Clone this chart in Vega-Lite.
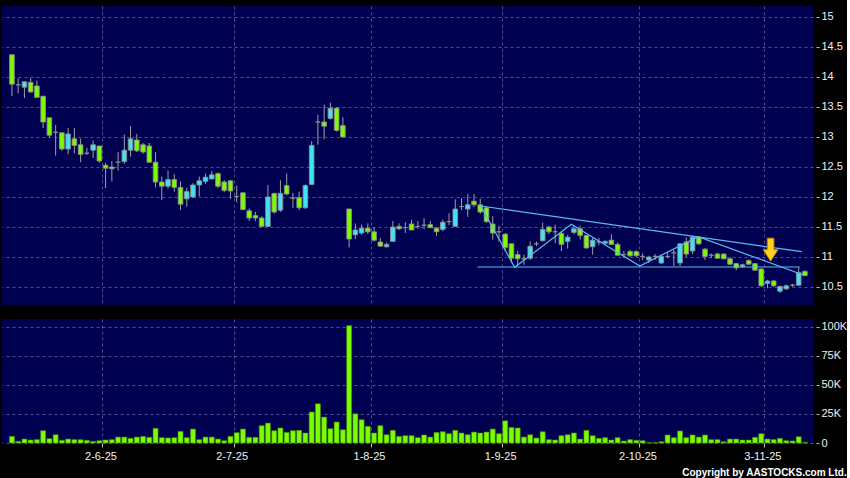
{
"$schema": "https://vega.github.io/schema/vega-lite/v6.json",
"background": "#000000",
"padding": {"left": 2, "top": 6, "right": 0, "bottom": 0},
"autosize": {"type": "pad"},
"config": {
  "view": {"fill": "#000050", "stroke": null},
  "axis": {"gridColor": "#6A6AA0", "gridDash": [3, 3], "gridOpacity": 0.75, "labelFont": "Liberation Sans", "labelFontSize": 11, "labelColor": "#F0F0F0", "tickColor": "#BDBDBD", "domain": false, "title": null, "labelOverlap": false}
},
"spacing": 14,
"bounds": "flush",
"title": {"text": "Copyright by AASTOCKS.com Ltd.", "orient": "bottom", "anchor": "end", "font": "Liberation Sans", "fontSize": 10, "fontWeight": "bold", "color": "#FFFFFF", "offset": 7},
"datasets": {
  "k": [
    {"i":1,"o":14.37,"h":14.38,"l":13.68,"c":13.88,"v":5700},
    {"i":2,"o":13.87,"h":13.98,"l":13.73,"c":13.87,"v":1400},
    {"i":3,"o":13.83,"h":13.93,"l":13.65,"c":13.92,"v":3400},
    {"i":4,"o":13.91,"h":13.98,"l":13.74,"c":13.75,"v":2600},
    {"i":5,"o":13.85,"h":13.94,"l":13.65,"c":13.66,"v":2900},
    {"i":6,"o":13.68,"h":13.68,"l":13.15,"c":13.25,"v":10600},
    {"i":7,"o":13.32,"h":13.32,"l":12.99,"c":13.03,"v":3700},
    {"i":8,"o":13.08,"h":13.2,"l":12.69,"c":13.08,"v":7100},
    {"i":9,"o":13.07,"h":13.08,"l":12.77,"c":12.8,"v":2300},
    {"i":10,"o":12.8,"h":13.15,"l":12.71,"c":13.05,"v":3400},
    {"i":11,"o":12.97,"h":13.15,"l":12.73,"c":12.86,"v":2900},
    {"i":12,"o":12.87,"h":12.97,"l":12.58,"c":12.71,"v":2900},
    {"i":13,"o":12.73,"h":12.82,"l":12.7,"c":12.73,"v":2300},
    {"i":14,"o":12.78,"h":12.94,"l":12.65,"c":12.87,"v":1400},
    {"i":15,"o":12.85,"h":12.85,"l":12.57,"c":12.6,"v":2000},
    {"i":16,"o":12.53,"h":12.57,"l":12.15,"c":12.48,"v":2600},
    {"i":17,"o":12.5,"h":12.6,"l":12.26,"c":12.47,"v":2900},
    {"i":18,"o":12.58,"h":12.75,"l":12.44,"c":12.58,"v":5100},
    {"i":19,"o":12.59,"h":13.04,"l":12.55,"c":12.78,"v":5100},
    {"i":20,"o":12.78,"h":13.18,"l":12.67,"c":12.97,"v":4000},
    {"i":21,"o":12.95,"h":13.05,"l":12.75,"c":12.77,"v":5100},
    {"i":22,"o":12.87,"h":12.9,"l":12.72,"c":12.75,"v":5700},
    {"i":23,"o":12.85,"h":12.9,"l":12.57,"c":12.58,"v":4900},
    {"i":24,"o":12.58,"h":12.75,"l":12.16,"c":12.25,"v":12600},
    {"i":25,"o":12.25,"h":12.34,"l":11.95,"c":12.18,"v":4600},
    {"i":26,"o":12.18,"h":12.44,"l":12.14,"c":12.29,"v":4300},
    {"i":27,"o":12.29,"h":12.38,"l":12.09,"c":12.16,"v":4600},
    {"i":28,"o":12.16,"h":12.26,"l":11.78,"c":11.88,"v":10000},
    {"i":29,"o":11.97,"h":12.15,"l":11.84,"c":12.09,"v":4600},
    {"i":30,"o":12.0,"h":12.23,"l":11.98,"c":12.2,"v":12000},
    {"i":31,"o":12.2,"h":12.34,"l":12.01,"c":12.27,"v":2900},
    {"i":32,"o":12.26,"h":12.39,"l":12.22,"c":12.33,"v":5100},
    {"i":33,"o":12.3,"h":12.43,"l":12.3,"c":12.37,"v":5100},
    {"i":34,"o":12.39,"h":12.41,"l":12.15,"c":12.18,"v":3400},
    {"i":35,"o":12.25,"h":12.28,"l":12.08,"c":12.11,"v":2000},
    {"i":36,"o":12.27,"h":12.28,"l":11.97,"c":12.1,"v":5700},
    {"i":37,"o":12.01,"h":12.19,"l":11.91,"c":12.01,"v":8900},
    {"i":38,"o":12.07,"h":12.07,"l":11.78,"c":11.79,"v":12000},
    {"i":39,"o":11.77,"h":11.81,"l":11.6,"c":11.65,"v":4900},
    {"i":40,"o":11.69,"h":11.75,"l":11.6,"c":11.65,"v":4900},
    {"i":41,"o":11.65,"h":11.68,"l":11.49,"c":11.51,"v":14900},
    {"i":42,"o":11.51,"h":12.2,"l":11.51,"c":12.0,"v":17100},
    {"i":43,"o":12.06,"h":12.07,"l":11.72,"c":11.75,"v":10600},
    {"i":44,"o":11.78,"h":12.28,"l":11.75,"c":12.06,"v":12900},
    {"i":45,"o":12.19,"h":12.39,"l":12.03,"c":12.05,"v":9100},
    {"i":46,"o":11.98,"h":12.07,"l":11.82,"c":11.98,"v":10600},
    {"i":47,"o":11.99,"h":12.09,"l":11.78,"c":11.82,"v":10900},
    {"i":48,"o":11.82,"h":12.21,"l":11.8,"c":12.19,"v":8600},
    {"i":49,"o":12.21,"h":12.93,"l":12.2,"c":12.86,"v":26600},
    {"i":50,"o":13.25,"h":13.37,"l":12.87,"c":13.25,"v":33700},
    {"i":51,"o":13.25,"h":13.54,"l":12.96,"c":13.18,"v":22300},
    {"i":52,"o":13.31,"h":13.57,"l":13.29,"c":13.48,"v":12300},
    {"i":53,"o":13.48,"h":13.5,"l":13.09,"c":13.11,"v":18000},
    {"i":54,"o":13.19,"h":13.33,"l":13.0,"c":13.0,"v":11400},
    {"i":55,"o":11.8,"h":11.8,"l":11.16,"c":11.3,"v":100900},
    {"i":56,"o":11.37,"h":11.56,"l":11.3,"c":11.45,"v":25100},
    {"i":57,"o":11.4,"h":11.54,"l":11.37,"c":11.48,"v":20000},
    {"i":58,"o":11.48,"h":11.56,"l":11.38,"c":11.42,"v":14300},
    {"i":59,"o":11.42,"h":11.5,"l":11.26,"c":11.28,"v":8600},
    {"i":60,"o":11.25,"h":11.32,"l":11.17,"c":11.18,"v":14900},
    {"i":61,"o":11.17,"h":11.24,"l":11.16,"c":11.21,"v":7100},
    {"i":62,"o":11.26,"h":11.6,"l":11.26,"c":11.5,"v":10900},
    {"i":63,"o":11.51,"h":11.56,"l":11.45,"c":11.47,"v":5700},
    {"i":64,"o":11.49,"h":11.58,"l":11.4,"c":11.49,"v":6300},
    {"i":65,"o":11.55,"h":11.62,"l":11.45,"c":11.45,"v":6300},
    {"i":66,"o":11.51,"h":11.6,"l":11.47,"c":11.51,"v":4600},
    {"i":67,"o":11.53,"h":11.65,"l":11.46,"c":11.53,"v":6900},
    {"i":68,"o":11.54,"h":11.6,"l":11.48,"c":11.49,"v":5100},
    {"i":69,"o":11.48,"h":11.5,"l":11.35,"c":11.42,"v":9100},
    {"i":70,"o":11.46,"h":11.62,"l":11.43,"c":11.58,"v":9700},
    {"i":71,"o":11.59,"h":11.73,"l":11.53,"c":11.59,"v":8000},
    {"i":72,"o":11.51,"h":11.96,"l":11.51,"c":11.8,"v":10900},
    {"i":73,"o":11.84,"h":11.98,"l":11.78,"c":11.84,"v":8600},
    {"i":74,"o":11.8,"h":12.05,"l":11.67,"c":11.87,"v":7100},
    {"i":75,"o":11.93,"h":12.05,"l":11.83,"c":11.87,"v":9400},
    {"i":76,"o":11.87,"h":11.97,"l":11.72,"c":11.75,"v":8600},
    {"i":77,"o":11.82,"h":11.85,"l":11.57,"c":11.59,"v":9400},
    {"i":78,"o":11.55,"h":11.68,"l":11.29,"c":11.4,"v":12000},
    {"i":79,"o":11.42,"h":11.52,"l":11.26,"c":11.42,"v":8000},
    {"i":80,"o":11.38,"h":11.4,"l":11.09,"c":11.16,"v":19100},
    {"i":81,"o":11.22,"h":11.22,"l":10.9,"c":10.98,"v":13400},
    {"i":82,"o":11.04,"h":11.1,"l":10.85,"c":10.97,"v":12900},
    {"i":83,"o":10.97,"h":11.04,"l":10.87,"c":10.97,"v":5100},
    {"i":84,"o":10.98,"h":11.26,"l":10.95,"c":11.18,"v":7100},
    {"i":85,"o":11.22,"h":11.26,"l":11.18,"c":11.22,"v":4300},
    {"i":86,"o":11.27,"h":11.57,"l":11.26,"c":11.46,"v":9700},
    {"i":87,"o":11.5,"h":11.52,"l":11.38,"c":11.42,"v":2900},
    {"i":88,"o":11.42,"h":11.54,"l":11.23,"c":11.42,"v":2600},
    {"i":89,"o":11.39,"h":11.43,"l":11.1,"c":11.21,"v":6300},
    {"i":90,"o":11.26,"h":11.37,"l":11.14,"c":11.33,"v":7100},
    {"i":91,"o":11.41,"h":11.52,"l":11.38,"c":11.47,"v":8600},
    {"i":92,"o":11.47,"h":11.52,"l":11.29,"c":11.36,"v":3400},
    {"i":93,"o":11.36,"h":11.37,"l":11.14,"c":11.15,"v":10900},
    {"i":94,"o":11.17,"h":11.32,"l":11.04,"c":11.28,"v":6300},
    {"i":95,"o":11.25,"h":11.32,"l":11.2,"c":11.25,"v":4000},
    {"i":96,"o":11.23,"h":11.28,"l":11.2,"c":11.26,"v":4600},
    {"i":97,"o":11.28,"h":11.38,"l":11.2,"c":11.21,"v":2600},
    {"i":98,"o":11.21,"h":11.24,"l":11.02,"c":11.03,"v":4600},
    {"i":99,"o":11.04,"h":11.1,"l":10.98,"c":11.04,"v":1700},
    {"i":100,"o":11.09,"h":11.12,"l":11.0,"c":11.02,"v":2900},
    {"i":101,"o":11.09,"h":11.11,"l":11.0,"c":11.02,"v":2300},
    {"i":102,"o":11.01,"h":11.06,"l":10.95,"c":11.01,"v":2000},
    {"i":103,"o":10.95,"h":11.02,"l":10.9,"c":11.0,"v":300},
    {"i":104,"o":11.01,"h":11.05,"l":10.95,"c":11.01,"v":300},
    {"i":105,"o":10.9,"h":11.03,"l":10.88,"c":11.01,"v":1100},
    {"i":106,"o":11.01,"h":11.07,"l":10.98,"c":11.01,"v":6900},
    {"i":107,"o":11.07,"h":11.12,"l":10.85,"c":11.07,"v":4600},
    {"i":108,"o":10.9,"h":11.23,"l":10.85,"c":11.22,"v":10300},
    {"i":109,"o":11.25,"h":11.33,"l":11.0,"c":11.05,"v":4600},
    {"i":110,"o":11.1,"h":11.36,"l":11.05,"c":11.33,"v":6900},
    {"i":111,"o":11.33,"h":11.35,"l":11.2,"c":11.22,"v":5100},
    {"i":112,"o":11.13,"h":11.15,"l":10.95,"c":11.01,"v":6900},
    {"i":113,"o":11.03,"h":11.06,"l":10.98,"c":11.03,"v":2900},
    {"i":114,"o":11.05,"h":11.07,"l":10.97,"c":10.98,"v":2900},
    {"i":115,"o":11.05,"h":11.06,"l":10.96,"c":10.97,"v":1100},
    {"i":116,"o":10.97,"h":10.99,"l":10.87,"c":10.88,"v":3400},
    {"i":117,"o":10.89,"h":10.9,"l":10.78,"c":10.82,"v":3400},
    {"i":118,"o":10.84,"h":10.89,"l":10.82,"c":10.87,"v":2600},
    {"i":119,"o":10.94,"h":10.96,"l":10.87,"c":10.88,"v":2600},
    {"i":120,"o":10.89,"h":10.9,"l":10.77,"c":10.78,"v":4900},
    {"i":121,"o":10.8,"h":10.81,"l":10.5,"c":10.52,"v":8000},
    {"i":122,"o":10.56,"h":10.62,"l":10.48,"c":10.6,"v":3400},
    {"i":123,"o":10.6,"h":10.62,"l":10.5,"c":10.52,"v":2900},
    {"i":124,"o":10.43,"h":10.52,"l":10.4,"c":10.51,"v":4000},
    {"i":125,"o":10.47,"h":10.54,"l":10.45,"c":10.52,"v":2000},
    {"i":126,"o":10.53,"h":10.55,"l":10.5,"c":10.53,"v":1700},
    {"i":127,"o":10.53,"h":10.82,"l":10.52,"c":10.74,"v":5400},
    {"i":128,"o":10.76,"h":10.78,"l":10.68,"c":10.69,"v":600}
  ],
  "tl": [
    {"seg":"a","i":76.09,"v":11.85},
    {"seg":"a","i":127.5,"v":11.088},
    {"seg":"b","i":76.09,"v":11.85},
    {"seg":"b","i":81.51,"v":10.828},
    {"seg":"b","i":90.58,"v":11.547},
    {"seg":"b","i":101.55,"v":10.85},
    {"seg":"b","i":110.89,"v":11.338},
    {"seg":"b","i":127.75,"v":10.7},
    {"seg":"c","i":75.55,"v":10.833},
    {"seg":"c","i":127.2,"v":10.833}
  ],
  "ar": [{"i":122.5,"v":11.122}]
},
"vconcat": [
  {
    "width": 811,
    "height": 299,
    "data": {"name": "k"},
    "encoding": {
      "x": {"field": "i", "type": "quantitative", "scale": {"domain": [0.209, 128.49], "nice": false, "zero": false},
            "axis": {"values": [15.5, 36.5, 58.5, 79.5, 101.5, 121.5], "tickCount": 20, "labels": false, "ticks": false, "grid": true, "domain": false}}
    },
    "layer": [
      {
        "mark": {"type": "rule", "color": "#A0A0A0", "strokeWidth": 1},
        "encoding": {
          "y": {"field": "l", "type": "quantitative", "scale": {"domain": [10.2, 15.183], "nice": false, "zero": false},
                "axis": {"orient": "right", "values": [10.5, 11, 11.5, 12, 12.5, 13, 13.5, 14, 14.5, 15], "tickCount": 20, "format": "~g", "grid": true, "ticks": true, "tickSize": 3, "offset": 3, "labelPadding": 2, "labelOverlap": false}},
          "y2": {"field": "h"}
        }
      },
      {
        "mark": {"type": "bar", "size": 4.6, "stroke": "#8C8C8C", "strokeWidth": 0.9},
        "encoding": {
          "y": {"field": "o", "type": "quantitative"},
          "y2": {"field": "c"},
          "fill": {"condition": [{"test": "datum.c > datum.o", "value": "#3FE3F5"}, {"test": "datum.c < datum.o", "value": "#7CFC00"}], "value": "#909090"}
        }
      },
      {
        "data": {"name": "tl"},
        "mark": {"type": "line", "color": "#58BCF0", "strokeWidth": 1.2},
        "encoding": {
          "y": {"field": "v", "type": "quantitative"},
          "detail": {"field": "seg"}
        }
      },
      {
        "data": {"name": "ar"},
        "mark": {"type": "point", "shape": "M-0.29,-1L0.29,-1L0.29,0L0.64,0L0,1L-0.64,0L-0.29,0Z", "filled": true, "size": 529, "fill": "#FFD21F", "stroke": "#C88400", "strokeWidth": 1, "opacity": 1},
        "encoding": {
          "y": {"field": "v", "type": "quantitative"}
        }
      }
    ]
  },
  {
    "width": 811,
    "height": 124,
    "data": {"name": "k"},
    "mark": {"type": "bar", "size": 5, "fill": "#7CFC00", "stroke": "#3E8E00", "strokeWidth": 0.6},
    "encoding": {
      "x": {"field": "i", "type": "quantitative", "scale": {"domain": [0.209, 128.49], "nice": false, "zero": false},
            "axis": {"values": [15.5, 36.5, 58.5, 79.5, 101.5, 121.5], "tickCount": 20, "grid": true, "ticks": true, "tickSize": 4, "labelPadding": 3, "labelOffset": -2, "domain": false,
                     "labelExpr": "datum.value < 20 ? '2-6-25' : datum.value < 40 ? '2-7-25' : datum.value < 60 ? '1-8-25' : datum.value < 90 ? '1-9-25' : datum.value < 110 ? '2-10-25' : '3-11-25'"}},
      "y": {"field": "v", "type": "quantitative", "stack": null, "scale": {"domain": [0, 106600], "nice": false},
            "axis": {"orient": "right", "values": [0, 25000, 50000, 75000, 100000], "tickCount": 20, "grid": true, "ticks": true, "tickSize": 3, "offset": 3, "labelPadding": 2, "labelOverlap": false,
                     "labelExpr": "datum.value == 0 ? '0' : (datum.value / 1000) + 'K'"}}
    }
  }
]
}
